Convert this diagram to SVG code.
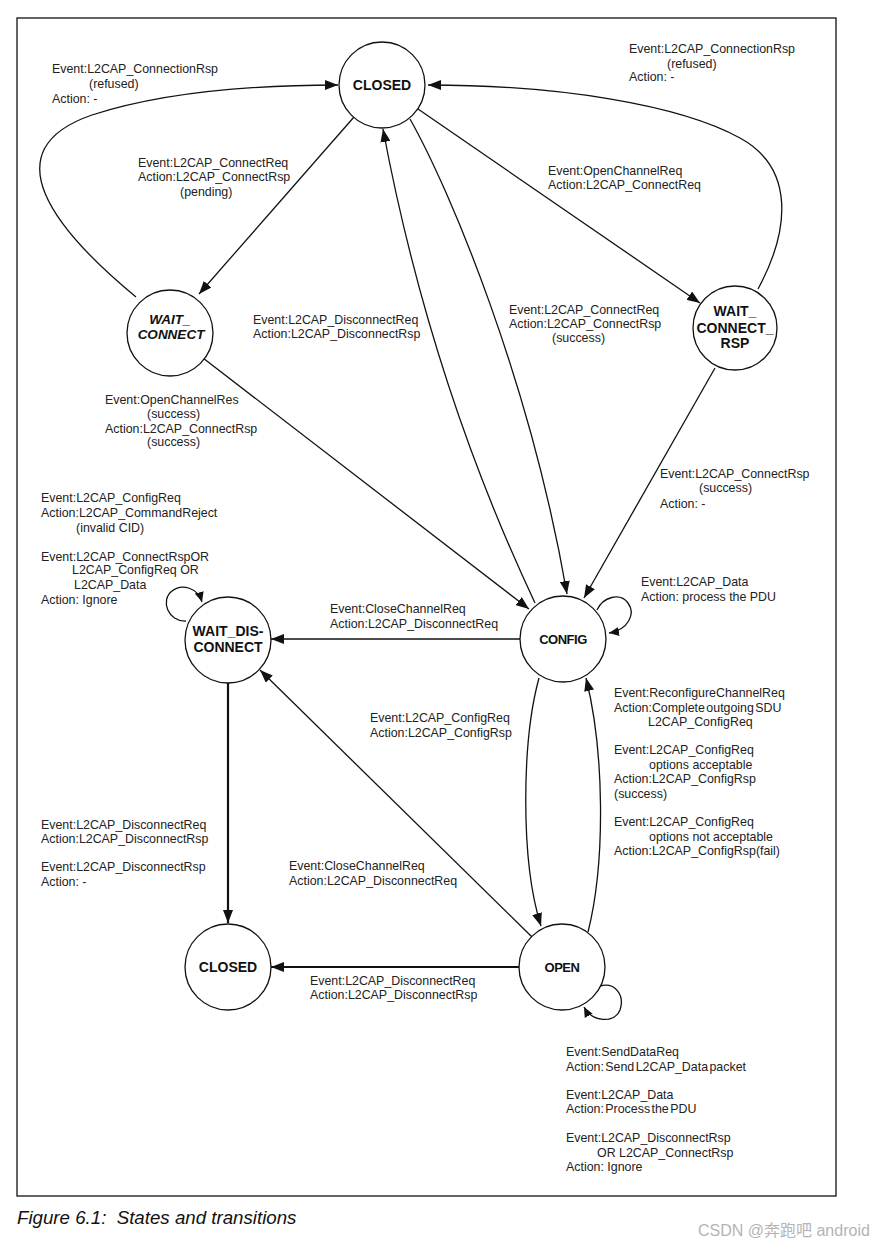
<svg xmlns="http://www.w3.org/2000/svg" width="874" height="1246" viewBox="0 0 874 1246">
<style>
.t{font-family:"Liberation Sans",Arial,sans-serif;font-size:12.4px;fill:#222}
.n{font-family:"Liberation Sans",Arial,sans-serif;font-size:14px;font-weight:bold;fill:#111;text-anchor:middle}
.ni{font-style:italic;font-size:13.5px}
.nc{font-size:13px;letter-spacing:-0.5px}
.st{fill:#fff;stroke:#111;stroke-width:1.3}
.c{fill:none;stroke:#111;stroke-width:1.3}
.k{stroke-width:2.2}
</style>
<defs>
<marker id="a" markerUnits="userSpaceOnUse" markerWidth="14" markerHeight="10" refX="13" refY="5" orient="auto">
<path d="M0,0 L13,5 L0,10 z" fill="#111"/>
</marker>
<marker id="s" markerUnits="userSpaceOnUse" markerWidth="11" markerHeight="9" refX="10" refY="4.5" orient="auto">
<path d="M0,0 L10,4.5 L0,9 z" fill="#111"/>
</marker>
</defs>
<rect x="0" y="0" width="874" height="1246" fill="#fff"/>
<rect x="17" y="18" width="819" height="1178" fill="none" stroke="#111" stroke-width="1.3"/>

<g id="connectors">
<path class="c" d="M136,297 C55,230 -10,150 92,115 C160,93 250,85 338,85" marker-end="url(#a)"/>
<path class="c" d="M758,289 C790,230 795,168 740,138 C680,105 560,85 428,85" marker-end="url(#a)"/>
<path class="c" d="M354,117 L199,294" marker-end="url(#a)"/>
<path class="c" d="M418,109 L700,303" marker-end="url(#a)"/>
<path class="c" d="M535,603 Q430,380 383,129" marker-end="url(#a)"/>
<path class="c" d="M410,119 C450,190 530,380 567,594" marker-end="url(#a)"/>
<path class="c" d="M203,358 L529,609" marker-end="url(#a)"/>
<path class="c" d="M715,368 L584,598" marker-end="url(#a)"/>
<path class="c" d="M597,610 C603,597 620,592 628,603 C636,614 628,630 609,633" marker-end="url(#s)"/>
<path class="c" d="M520,639 L271,639" marker-end="url(#a)"/>
<path class="c" d="M186,621 C168,622 160,600 172,591 C182,583 198,588 202,602" marker-end="url(#s)"/>
<path class="c k" d="M228,683 L228,923" marker-end="url(#a)"/>
<path class="c" d="M532,937 L260,670" marker-end="url(#a)"/>
<path class="c k" d="M519,967 L271,967" marker-end="url(#a)"/>
<path class="c" d="M539,678 C522,740 520,860 541,926" marker-end="url(#a)"/>
<path class="c" d="M588,932 C606,860 604,750 586,678" marker-end="url(#a)"/>
<path class="c" d="M600,986 C615,982 625,995 620,1010 C614,1024 592,1022 584,1007" marker-end="url(#s)"/>
</g>

<g id="closed-top"><circle class="st" cx="382" cy="85" r="43"/><text class="n" x="382" y="90">CLOSED</text></g>
<g id="wait-connect"><circle class="st" cx="170" cy="333" r="43"/><text class="n ni" x="170" y="324">WAIT_</text><text class="n ni" x="171" y="339">CONNECT</text></g>
<g id="wait-connect-rsp"><circle class="st" cx="735" cy="328" r="42"/><text class="n" x="735" y="316">WAIT_</text><text class="n" x="735" y="333">CONNECT_</text><text class="n" x="735" y="348">RSP</text></g>
<g id="config"><circle class="st" cx="563" cy="639" r="43"/><text class="n nc" x="563" y="644">CONFIG</text></g>
<g id="wait-disconnect"><circle class="st" cx="228" cy="640" r="43"/><text class="n" x="228" y="636">WAIT_DIS-</text><text class="n" x="228" y="652">CONNECT</text></g>
<g id="closed-bottom"><circle class="st" cx="228" cy="967" r="43"/><text class="n" x="228" y="972">CLOSED</text></g>
<g id="open"><circle class="st" cx="562" cy="967" r="43"/><text class="n nc" x="562" y="972">OPEN</text></g>

<g id="labels">
<text class="t" x="52" y="73">Event:L2CAP_ConnectionRsp</text>
<text class="t" x="89" y="88">(refused)</text>
<text class="t" x="52" y="103">Action: -</text>

<text class="t" x="629" y="53">Event:L2CAP_ConnectionRsp</text>
<text class="t" x="667" y="68">(refused)</text>
<text class="t" x="629" y="81">Action: -</text>

<text class="t" x="138" y="167">Event:L2CAP_ConnectReq</text>
<text class="t" x="138" y="181">Action:L2CAP_ConnectRsp</text>
<text class="t" x="180" y="196">(pending)</text>

<text class="t" x="548" y="175">Event:OpenChannelReq</text>
<text class="t" x="548" y="189">Action:L2CAP_ConnectReq</text>

<text class="t" x="253" y="324">Event:L2CAP_DisconnectReq</text>
<text class="t" x="253" y="338">Action:L2CAP_DisconnectRsp</text>

<text class="t" x="509" y="314">Event:L2CAP_ConnectReq</text>
<text class="t" x="509" y="328">Action:L2CAP_ConnectRsp</text>
<text class="t" x="552" y="342">(success)</text>

<text class="t" x="105" y="404">Event:OpenChannelRes</text>
<text class="t" x="147" y="418">(success)</text>
<text class="t" x="105" y="433">Action:L2CAP_ConnectRsp</text>
<text class="t" x="147" y="446">(success)</text>

<text class="t" x="660" y="478">Event:L2CAP_ConnectRsp</text>
<text class="t" x="699" y="492">(success)</text>
<text class="t" x="660" y="508">Action: -</text>

<text class="t" x="41" y="502">Event:L2CAP_ConfigReq</text>
<text class="t" x="41" y="517">Action:L2CAP_CommandReject</text>
<text class="t" x="76" y="532">(invalid CID)</text>

<text class="t" x="41" y="561">Event:L2CAP_ConnectRspOR</text>
<text class="t" x="72" y="574">L2CAP_ConfigReq OR</text>
<text class="t" x="74" y="589">L2CAP_Data</text>
<text class="t" x="41" y="604">Action: Ignore</text>

<text class="t" x="641" y="586">Event:L2CAP_Data</text>
<text class="t" x="641" y="601">Action: process the PDU</text>

<text class="t" x="330" y="613">Event:CloseChannelReq</text>
<text class="t" x="330" y="628">Action:L2CAP_DisconnectReq</text>

<text class="t" x="614" y="697">Event:ReconfigureChannelReq</text>
<text class="t" x="614" y="712" word-spacing="-2">Action:Complete outgoing SDU</text>
<text class="t" x="648" y="726">L2CAP_ConfigReq</text>

<text class="t" x="370" y="722">Event:L2CAP_ConfigReq</text>
<text class="t" x="370" y="737">Action:L2CAP_ConfigRsp</text>

<text class="t" x="614" y="754">Event:L2CAP_ConfigReq</text>
<text class="t" x="649" y="769">options acceptable</text>
<text class="t" x="614" y="783">Action:L2CAP_ConfigRsp</text>
<text class="t" x="614" y="798">(success)</text>

<text class="t" x="614" y="826">Event:L2CAP_ConfigReq</text>
<text class="t" x="649" y="841">options not acceptable</text>
<text class="t" x="614" y="855">Action:L2CAP_ConfigRsp(fail)</text>

<text class="t" x="41" y="829">Event:L2CAP_DisconnectReq</text>
<text class="t" x="41" y="843">Action:L2CAP_DisconnectRsp</text>
<text class="t" x="41" y="871">Event:L2CAP_DisconnectRsp</text>
<text class="t" x="41" y="886">Action: -</text>

<text class="t" x="289" y="870">Event:CloseChannelReq</text>
<text class="t" x="289" y="885">Action:L2CAP_DisconnectReq</text>

<text class="t" x="310" y="985">Event:L2CAP_DisconnectReq</text>
<text class="t" x="310" y="999">Action:L2CAP_DisconnectRsp</text>

<text class="t" x="566" y="1056">Event:SendDataReq</text>
<text class="t" x="566" y="1071" word-spacing="-2">Action: Send L2CAP_Data packet</text>
<text class="t" x="566" y="1099">Event:L2CAP_Data</text>
<text class="t" x="566" y="1113" word-spacing="-2">Action: Process the PDU</text>
<text class="t" x="566" y="1142">Event:L2CAP_DisconnectRsp</text>
<text class="t" x="597" y="1157">OR L2CAP_ConnectRsp</text>
<text class="t" x="566" y="1171">Action: Ignore</text>
</g>

<text x="17" y="1224" font-family="Liberation Sans, Arial, sans-serif" font-size="18.7" font-style="italic" fill="#111" xml:space="preserve">Figure 6.1:  States and transitions</text>
<text x="698" y="1236" font-family="Liberation Sans, Arial, 'Noto Sans CJK SC', sans-serif" font-size="16" fill="#b4b4b4">CSDN @奔跑吧 android</text>
</svg>
